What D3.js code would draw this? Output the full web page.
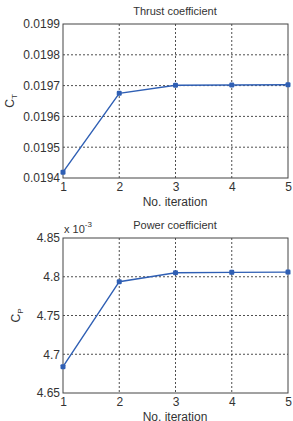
<!DOCTYPE html>
<html><head><meta charset="utf-8">
<script src="https://cdn.jsdelivr.net/npm/d3@7"></script>
<style>body{margin:0;background:#fff}svg{display:block;font-family:"Liberation Sans",Arial,sans-serif}</style>
</head><body><svg id="c" width="293" height="421"></svg>
<script>
const iterations = [1, 2, 3, 4, 5];
const thrustValues = [0.019419, 0.019675, 0.019701, 0.019702, 0.019703];
const powerValues = [4.684, 4.7936, 4.8052, 4.8057, 4.806]; // x 10^-3
const thrustTicks = [0.0194, 0.0195, 0.0196, 0.0197, 0.0198, 0.0199];
const powerTicks = [4.65, 4.7, 4.75, 4.8, 4.85];

const svg = d3.select("#c");
const lineColor = "#2f5fb4";

function panel(cfg) {
  const x = d3.scaleLinear().domain([1, 5]).range([63, 288]);
  const y = d3.scaleLinear().domain(cfg.domain).range([cfg.bottom, cfg.top]);
  const g = svg.append("g");
  // grid
  g.selectAll(".vg").data(iterations.slice(1, -1)).join("line")
    .attr("x1", d => x(d)).attr("x2", d => x(d)).attr("y1", cfg.top).attr("y2", cfg.bottom)
    .attr("stroke", "#222").attr("stroke-width", 0.8).attr("stroke-dasharray", "2,2");
  g.selectAll(".hg").data(cfg.ticks.slice(1, -1)).join("line")
    .attr("x1", 63).attr("x2", 288).attr("y1", d => y(d)).attr("y2", d => y(d))
    .attr("stroke", "#222").attr("stroke-width", 0.8).attr("stroke-dasharray", "2,2");
  // axes
  const xa = g.append("g").attr("transform", `translate(0,${cfg.bottom})`)
    .call(d3.axisBottom(x).tickValues(iterations).tickFormat(d3.format("d")).tickSize(0).tickPadding(4));
  const ya = g.append("g").attr("transform", `translate(63,0)`)
    .call(d3.axisLeft(y).tickValues(cfg.ticks).tickFormat(cfg.fmt).tickSize(0).tickPadding(3));
  [xa, ya].forEach(a => {
    a.select(".domain").remove();
    a.selectAll("text").attr("font-size", 12).attr("fill", "#333").attr("font-family", "Liberation Sans, Arial, sans-serif");
  });
  g.append("rect").attr("x", 63).attr("y", cfg.top).attr("width", 225).attr("height", cfg.bottom - cfg.top)
    .attr("fill", "none").attr("stroke", "#444").attr("stroke-width", 1);
  // line
  const pts = iterations.map((d, i) => [d, cfg.values[i]]);
  g.append("path").datum(pts)
    .attr("d", d3.line().x(d => x(d[0])).y(d => y(d[1])))
    .attr("fill", "none").attr("stroke", lineColor).attr("stroke-width", 1.4);
  g.selectAll(".pt").data(pts).join("rect")
    .attr("x", d => x(d[0]) - 2.5).attr("y", d => y(d[1]) - 2.5)
    .attr("width", 5).attr("height", 5).attr("rx", 1.2).attr("fill", lineColor);
  // title
  g.append("text").attr("x", 175).attr("y", cfg.top - 9).attr("text-anchor", "middle")
    .attr("font-size", 11).attr("fill", "#333").text(cfg.title);
  // x label
  g.append("text").attr("x", 175).attr("y", cfg.bottom + 28).attr("text-anchor", "middle")
    .attr("font-size", 12).attr("fill", "#333").text("No. iteration");
  // y label
  const yl = g.append("text").attr("transform", `translate(${cfg.ylx},${(cfg.top + cfg.bottom) / 2}) rotate(-90)`)
    .attr("text-anchor", "middle").attr("font-size", 12).attr("fill", "#333");
  yl.append("tspan").text("C");
  yl.append("tspan").attr("font-size", 8).attr("dy", 3).text(cfg.sub);
  return g;
}

panel({domain: [0.0194, 0.0199], top: 24, bottom: 178, values: thrustValues, ticks: thrustTicks,
  fmt: d3.format(".4f"), title: "Thrust coefficient", sub: "T", ylx: 14});
const g2 = panel({domain: [4.65, 4.85], top: 238, bottom: 393, values: powerValues, ticks: powerTicks,
  fmt: d => d3.format("")(+d.toFixed(2)), title: "Power coefficient", sub: "P", ylx: 20});
const ex = g2.append("text").attr("x", 64).attr("y", 233).attr("font-size", 11).attr("fill", "#333");
ex.append("tspan").text("x 10");
ex.append("tspan").attr("font-size", 8).attr("dy", -6).text("-3");
</script></body></html>
